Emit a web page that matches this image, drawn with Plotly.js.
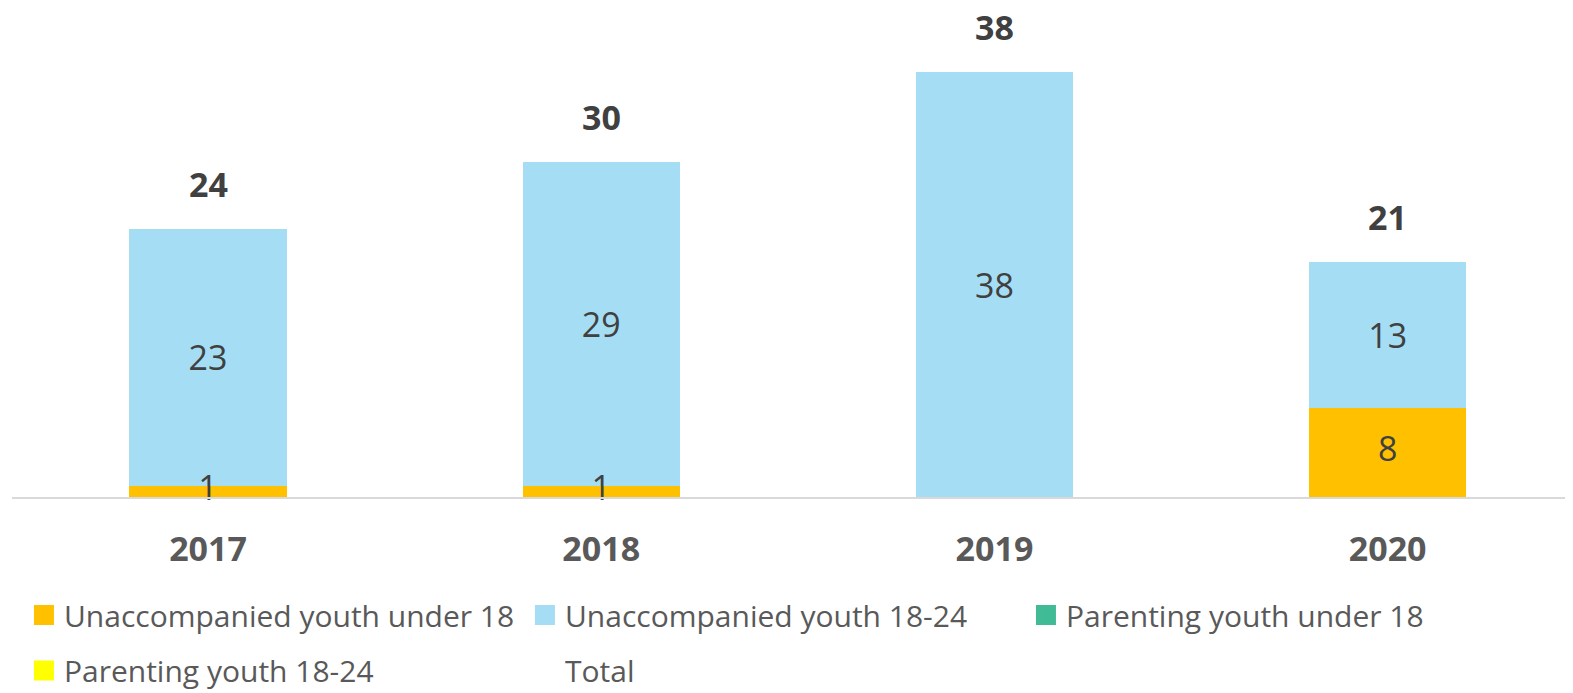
<!DOCTYPE html>
<html>
<head>
<meta charset="utf-8">
<script src="https://cdn.plot.ly/plotly-3.0.1.min.js"></script>
<style>html,body{margin:0;padding:0;background:#fff;}#chart{width:1573px;height:693px;}</style>
</head>
<body>
<div id="chart"></div>
<script>
const years = ['2017', '2018', '2019', '2020'];
const unaccUnder18 = [1, 1, 0, 8];
const unacc18to24 = [23, 29, 38, 13];
const parentUnder18 = [0, 0, 0, 0];
const parent18to24 = [0, 0, 0, 0];
const totals = [24, 30, 38, 21];

const seriesNames = ['Unaccompanied youth under 18', 'Unaccompanied youth 18-24', 'Parenting youth under 18', 'Parenting youth 18-24', 'Total'];
const colors = ['#FFC000', '#A5DEF4', '#41BA96', '#FFFF00'];

const FONT = 'Open Sans, Lato, sans-serif';
const labelFont = {family: FONT, size: 34, color: '#404040'};

function lbl(arr) { return arr.map(v => v > 0 ? String(v) : ''); }

function barTrace(vals, i, legendId, showText) {
  return {
    type: 'bar', x: years, y: vals, name: seriesNames[i],
    marker: {color: colors[i], line: {width: 0}},
    text: showText ? lbl(vals) : null, textposition: showText ? 'inside' : 'none',
    insidetextanchor: 'middle', textangle: 0, constraintext: 'none',
    insidetextfont: labelFont, textfont: labelFont,
    hoverinfo: 'x+y+name', legend: legendId
  };
}

const data = [
  barTrace(unaccUnder18, 0, 'legend', false),
  barTrace(unacc18to24, 1, 'legend', true),
  barTrace(parentUnder18, 2, 'legend', true),
  barTrace(parent18to24, 3, 'legend2', true),
  {type: 'scatter', mode: 'lines', x: years, y: totals, name: seriesNames[4],
   line: {color: 'rgba(0,0,0,0)', width: 0}, legend: 'legend2', hoverinfo: 'x+y+name'},
  // labels for the thin bottom segment (kept at full size, centred on the segment)
  {type: 'scatter', mode: 'text', x: years, y: unaccUnder18.map(v => v / 2),
   text: lbl(unaccUnder18), textposition: 'middle center', textfont: labelFont,
   showlegend: false, cliponaxis: false, hoverinfo: 'skip'}
];

const annotations = years.map((yr, i) => ({
  x: i, y: totals[i], xref: 'x', yref: 'y', text: '<b>' + totals[i] + '</b>',
  showarrow: false, yshift: 45, font: {family: FONT, size: 34, color: '#404040'}
}));

const legendFont = {family: FONT, size: 30, color: '#595959'};

const layout = {
  width: 1573, height: 693,
  margin: {l: 12, r: 8, t: 0, b: 196, autoexpand: false},
  paper_bgcolor: '#ffffff', plot_bgcolor: '#ffffff',
  barmode: 'stack', bargap: 0.6,
  showlegend: true,
  xaxis: {
    type: 'category', range: [-0.4985, 3.451],
    showline: true, linecolor: '#D9D9D9', linewidth: 2,
    showgrid: false, zeroline: false, ticks: '',
    tickfont: {family: FONT, size: 34, color: '#595959', weight: 'bold'},
    ticklabelstandoff: 21, fixedrange: true, automargin: false
  },
  yaxis: {range: [0, 44.45], visible: false, fixedrange: true},
  legend: {
    orientation: 'h', x: 0.0077, xanchor: 'left', y: -0.2374, yanchor: 'middle',
    font: legendFont, entrywidth: 456, entrywidthmode: 'pixels',
    traceorder: 'normal', bgcolor: 'rgba(0,0,0,0)'
  },
  legend2: {
    orientation: 'h', x: 0.0077, xanchor: 'left', y: -0.349, yanchor: 'middle',
    font: legendFont, entrywidth: 456, entrywidthmode: 'pixels',
    traceorder: 'normal', bgcolor: 'rgba(0,0,0,0)'
  },
  annotations: annotations
};

Plotly.newPlot('chart', data, layout, {displayModeBar: false, staticPlot: true}).then(gd => {
  gd.querySelectorAll('.legendpoints path').forEach(p => {
    const t = p.getAttribute('transform') || '';
    p.setAttribute('transform', t + ' scale(1.667)');
  });
});
</script>
</body>
</html>
